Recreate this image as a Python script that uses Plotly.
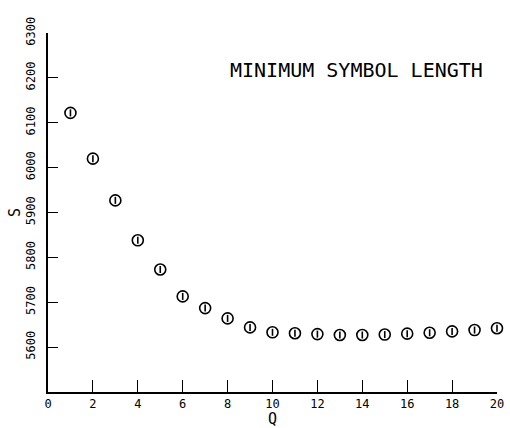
import plotly.graph_objects as go

q_values = list(range(1, 21))
s_values = [6122, 6020, 5927, 5838, 5773, 5713, 5687, 5664, 5644, 5633,
            5631, 5629, 5627, 5627, 5628, 5630, 5632, 5635, 5638, 5642]
x_ticks = list(range(0, 21, 2))
y_ticks = list(range(5600, 6301, 100))
title_text = "MINIMUM SYMBOL LENGTH"

font_family = "DejaVu Sans Mono"

fig = go.Figure()
fig.add_trace(go.Scatter(
    x=q_values, y=s_values, mode="markers",
    marker=dict(symbol="circle-open", size=11, color="black",
                line=dict(width=1.6, color="black")),
    hoverinfo="skip", showlegend=False, cliponaxis=False))
fig.add_trace(go.Scatter(
    x=q_values, y=s_values, mode="markers",
    marker=dict(symbol="line-ns-open", size=5, color="black",
                line=dict(width=1.6, color="black")),
    hoverinfo="skip", showlegend=False, cliponaxis=False))

fig.add_annotation(text=title_text, xref="paper", yref="paper",
                   x=0.688, y=0.897, xanchor="center", yanchor="middle",
                   showarrow=False,
                   font=dict(family=font_family, size=20, color="black"))

fig.update_layout(
    width=510, height=428,
    margin=dict(l=48, r=13, t=33, b=36),
    paper_bgcolor="white", plot_bgcolor="white",
    font=dict(family=font_family, color="black", size=12),
)
fig.update_xaxes(
    range=[0, 20], tickvals=x_ticks, ticktext=[str(v) for v in x_ticks],
    showgrid=False, zeroline=False, showline=True, linecolor="black", linewidth=1.5,
    ticks="inside", ticklen=12, tickwidth=1.2, tickcolor="black",
    tickfont=dict(size=12), automargin=False,
    title=dict(text="Q", font=dict(size=15), standoff=0),
)
fig.update_yaxes(
    range=[5500, 6300], tickvals=y_ticks, ticktext=[str(v) for v in y_ticks],
    showgrid=False, zeroline=False, showline=True, linecolor="black", linewidth=1.5,
    ticks="inside", ticklen=10, tickwidth=1.2, tickcolor="black",
    tickangle=-90, tickfont=dict(size=12), automargin=False, ticklabelstandoff=6,
    title=dict(text="S", font=dict(size=15), standoff=0),
)

fig.write_html(
    "out.html",
    config={"displayModeBar": False},
    post_script="document.body.style.margin='0';document.body.style.overflow='hidden';",
)
